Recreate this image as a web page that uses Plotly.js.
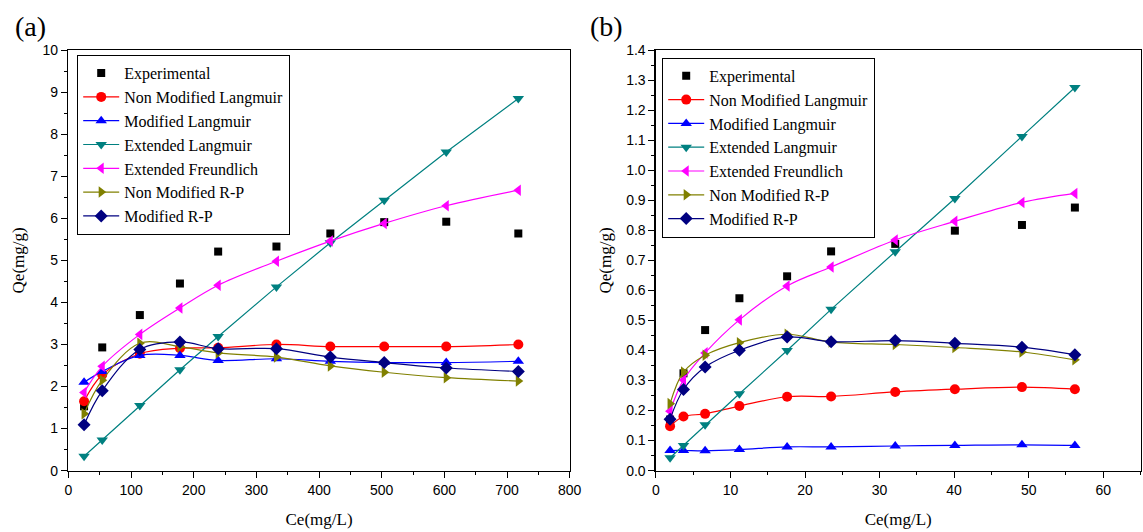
<!DOCTYPE html>
<html>
<head>
<meta charset="utf-8">
<script src="https://cdn.plot.ly/plotly-3.0.1.min.js"></script>
<style>html,body{margin:0;padding:0;background:#fff;}#chart{width:1143px;height:532px;}</style>
</head>
<body>
<div id="chart"></div>
<script>
// ---------- Data: panel (a) ----------
const seriesNames = ["Experimental","Non Modified Langmuir","Modified Langmuir","Extended Langmuir","Extended Freundlich","Non Modified R-P","Modified R-P"];

const ceA = [25, 54, 114, 178, 239, 332, 418, 504, 603, 718];
const expA   = [1.53, 2.93, 3.70, 4.45, 5.21, 5.33, 5.64, 5.91, 5.92, 5.64];
const nmLangA = [1.65, 2.28, 2.78, 2.91, 2.92, 3.00, 2.95, 2.95, 2.95, 3.00];
const mLangA  = [2.10, 2.36, 2.74, 2.74, 2.62, 2.66, 2.60, 2.57, 2.57, 2.60];
const extLangA = [0.34, 0.73, 1.55, 2.40, 3.19, 4.37, 5.42, 6.43, 7.58, 8.85];
const extFreuA = [1.86, 2.48, 3.24, 3.87, 4.41, 4.98, 5.46, 5.88, 6.30, 6.67];
const nmRPA   = [1.35, 2.15, 3.03, 2.95, 2.80, 2.70, 2.49, 2.34, 2.21, 2.13];
const mRPA    = [1.09, 1.90, 2.88, 3.06, 2.90, 2.90, 2.70, 2.57, 2.44, 2.36];

// ---------- Data: panel (b) ----------
const ceB = [1.9, 3.7, 6.6, 11.2, 17.6, 23.5, 32.1, 40.1, 49.1, 56.2];
const expB   = [0.17, 0.324, 0.468, 0.574, 0.647, 0.730, 0.755, 0.799, 0.818, 0.876];
const nmLangB = [0.148, 0.180, 0.189, 0.215, 0.246, 0.247, 0.262, 0.271, 0.278, 0.271];
const mLangB  = [0.067, 0.067, 0.066, 0.070, 0.079, 0.079, 0.082, 0.084, 0.086, 0.084];
const extLangB = [0.043, 0.084, 0.153, 0.256, 0.400, 0.537, 0.729, 0.906, 1.113, 1.276];
const extFreuB = [0.198, 0.302, 0.392, 0.502, 0.615, 0.678, 0.768, 0.830, 0.893, 0.923];
const nmRPB   = [0.223, 0.328, 0.384, 0.426, 0.454, 0.428, 0.420, 0.410, 0.395, 0.369];
const mRPB    = [0.171, 0.270, 0.345, 0.401, 0.445, 0.429, 0.433, 0.424, 0.411, 0.386];

const xTicksA = [0,100,200,300,400,500,600,700,800];
const yTicksA = [0,1,2,3,4,5,6,7,8,9,10];
const xTicksB = [0,10,20,30,40,50,60];
const yTicksB = [0,0.1,0.2,0.3,0.4,0.5,0.6,0.7,0.8,0.9,1.0,1.1,1.2,1.3,1.4];

// ---------- Styles ----------
const styles = [
  {color:"#000000", symbol:"square", size:8, line:false},
  {color:"#FF0000", symbol:"circle", size:10, line:true, shape:"spline"},
  {color:"#0000FF", symbol:"triangle-up", size:10, line:true, shape:"spline"},
  {color:"#008080", symbol:"triangle-down", size:10, line:true, shape:"linear"},
  {color:"#FF00FF", symbol:"triangle-left", size:10, line:true, shape:"spline"},
  {color:"#808000", symbol:"triangle-right", size:10, line:true, shape:"spline"},
  {color:"#000080", symbol:"diamond", size:10, line:true, shape:"spline"}
];

function makeTraces(x, ys, xa, ya, legendId){
  return ys.map((y,i)=>{
    const s = styles[i];
    const t = {
      x: x, y: y, name: seriesNames[i], xaxis: xa, yaxis: ya, legend: legendId,
      type: "scatter",
      mode: s.line ? "lines+markers" : "markers",
      marker: {color: s.color, symbol: s.symbol, size: s.size, line:{width:0}},
      cliponaxis: false
    };
    if (s.line) t.line = {color: s.color, width: 1.2, shape: s.shape, smoothing: 1};
    return t;
  });
}

const traces = [].concat(
  makeTraces(ceA, [expA, nmLangA, mLangA, extLangA, extFreuA, nmRPA, mRPA], "x", "y", "legend"),
  makeTraces(ceB, [expB, nmLangB, mLangB, extLangB, extFreuB, nmRPB, mRPB], "x2", "y2", "legend2")
);

const SERIF = "'Liberation Serif', 'Times New Roman', Times, serif";
const SANS = "'Liberation Sans', Arial, Helvetica, sans-serif";
const tickFont = {family: SANS, size: 14, color: "#000"};
const titleFont = {family: SERIF, size: 17, color: "#000"};
const legendFont = {family: SERIF, size: 16, color: "#000"};

function axis(dom, anchor, range, ticks, minorD, fmt, title, standoff){
  return {
    domain: dom, anchor: anchor, range: range, tickvals: ticks, tickformat: fmt,
    showgrid: false, zeroline: false, showline: true, linecolor: "#000", linewidth: 1.5,
    mirror: true, ticks: "outside", ticklen: 6, tickwidth: 1, tickcolor: "#000",
    minor: {ticks: "outside", ticklen: 3, dtick: minorD, tickcolor: "#000", showgrid: false},
    tickfont: tickFont,
    title: {text: title, font: titleFont, standoff: standoff}
  };
}

const yDom = [1 - 470.6/532, 1 - 50.2/532];

const layout = {
  width: 1143, height: 532,
  margin: {l: 0, r: 0, t: 0, b: 0},
  paper_bgcolor: "#fff", plot_bgcolor: "#fff",
  showlegend: true,
  xaxis: axis([68.4/1143, 569.7/1143], "y", [0, 800], xTicksA, 50, "", "Ce(mg/L)", 16),
  yaxis: axis(yDom, "x", [0, 10], yTicksA, 0.5, "", "Qe(mg/g)", 13),
  xaxis2: axis([655.9/1143, 1140.5/1143], "y2", [0, 65], xTicksB, 5, "", "Ce(mg/L)", 16),
  yaxis2: axis(yDom, "x2", [0, 1.4], yTicksB, 0.05, ".1f", "Qe(mg/g)", 10),
  legend: {
    x: 77/1143, y: 1 - 55/532, xanchor: "left", yanchor: "top",
    bgcolor: "#fff", bordercolor: "#000", borderwidth: 1.2,
    font: legendFont, itemwidth: 36, tracegroupgap: 0
  },
  legend2: {
    x: 662/1143, y: 1 - 57.7/532, xanchor: "left", yanchor: "top",
    bgcolor: "#fff", bordercolor: "#000", borderwidth: 1.2,
    font: legendFont, itemwidth: 36, tracegroupgap: 0
  },
  annotations: [
    {text: "(a)", xref: "paper", yref: "paper", x: 13/1143, y: 1 - 27/532, xanchor: "left", yanchor: "middle",
     showarrow: false, font: {family: SERIF, size: 28, color: "#000"}},
    {text: "(b)", xref: "paper", yref: "paper", x: 588/1143, y: 1 - 27/532, xanchor: "left", yanchor: "middle",
     showarrow: false, font: {family: SERIF, size: 28, color: "#000"}}
  ]
};

Plotly.newPlot("chart", traces, layout, {displayModeBar: false, staticPlot: true});
</script>
</body>
</html>
